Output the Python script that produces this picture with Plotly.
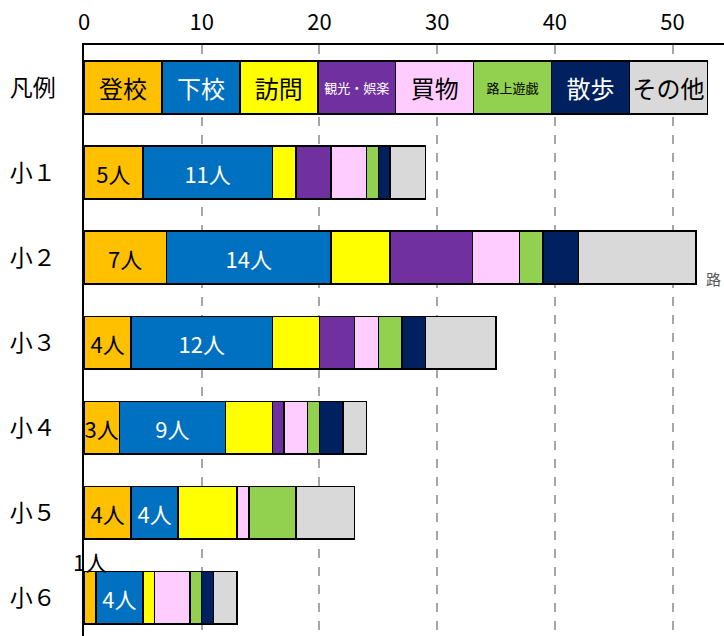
import plotly.graph_objects as go

rows = ["凡例", "小１", "小２", "小３", "小４", "小５", "小６"]
purposes = ["登校", "下校", "訪問", "観光・娯楽", "買物", "路上遊戯", "散歩", "その他"]
colors = ["#FFC000", "#0070C0", "#FFFF00", "#7030A0", "#FFCCFF", "#92D050", "#002060", "#D9D9D9"]
label_colors = ["black", "white", "black", "white", "black", "black", "white", "black"]
legend_sizes = [24, 24, 24, 13, 24, 13, 24, 24]
legend_width = 6.62  # each legend cell has the same width

# counts per grade (小１..小６) for each purpose
登校 = [5, 7, 4, 3, 4, 1]
下校 = [11, 14, 12, 9, 4, 4]
訪問 = [2, 5, 4, 4, 5, 1]
観光娯楽 = [3, 7, 3, 1, 0, 0]
買物 = [3, 4, 2, 2, 1, 3]
路上遊戯 = [1, 2, 2, 1, 4, 1]
散歩 = [1, 3, 2, 2, 0, 1]
その他 = [3, 10, 6, 2, 5, 2]
series = [登校, 下校, 訪問, 観光娯楽, 買物, 路上遊戯, 散歩, その他]

FONT = "Noto Sans CJK JP"
ypos = list(range(len(rows)))

fig = go.Figure()
for i, (name, vals) in enumerate(zip(purposes, series)):
    xs = [legend_width] + vals
    texts = [name]
    sizes = [legend_sizes[i]]
    for g, v in enumerate(vals):
        if i < 2 and v > 0 and not (i == 0 and g == 5):
            texts.append(f"{v}人")
        else:
            texts.append("")
        sizes.append(22)
    fig.add_trace(go.Bar(
        y=ypos, x=xs, orientation="h", name=name,
        marker=dict(color=colors[i], line=dict(color="black", width=1.5)),
        width=0.62,
        text=texts, textposition="inside", insidetextanchor="middle",
        textangle=0, constraintext="none",
        textfont=dict(color=label_colors[i], size=sizes, family=FONT),
        hoverinfo="skip",
    ))

# outside label for the small 登校 value of 小６
fig.add_annotation(x=登校[5] / 2, y=6 - 0.31, text=f"{登校[5]}人", showarrow=False,
                   xanchor="center", yanchor="bottom", yshift=-8,
                   font=dict(size=22, color="black", family=FONT))

# text at the right edge (cropped in the original)
fig.add_annotation(xref="paper", yref="paper", x=1.0, y=0.605, text="路",
                   showarrow=False, xanchor="right", xshift=-1,
                   font=dict(size=15, color="#595959", family=FONT))

fig.update_layout(
    width=724, height=636,
    margin=dict(l=84, r=0, t=45, b=0, autoexpand=False),
    paper_bgcolor="white", plot_bgcolor="white",
    barmode="stack", showlegend=False,
    font=dict(family=FONT, color="black"),
    xaxis=dict(side="top", range=[0, 54.37], tickvals=[0, 10, 20, 30, 40, 50],
               showgrid=True, gridcolor="#A6A6A6", griddash="dash", gridwidth=1.5,
               zeroline=False, showline=True, linecolor="black", linewidth=1.5,
               ticks="", tickfont=dict(size=22, family=FONT), ticklabelstandoff=4,
               automargin=False),
    yaxis=dict(range=[6.45, -0.5], tickvals=ypos, ticktext=rows,
               showgrid=False, zeroline=False, showline=True, linecolor="black",
               linewidth=1.5, ticks="", tickfont=dict(size=23, family=FONT),
               ticklabelstandoff=22, automargin=False),
)

fig.write_html("out.html", config={"displayModeBar": False},
               post_script="document.body.style.margin='0';document.body.style.overflow='hidden';")
